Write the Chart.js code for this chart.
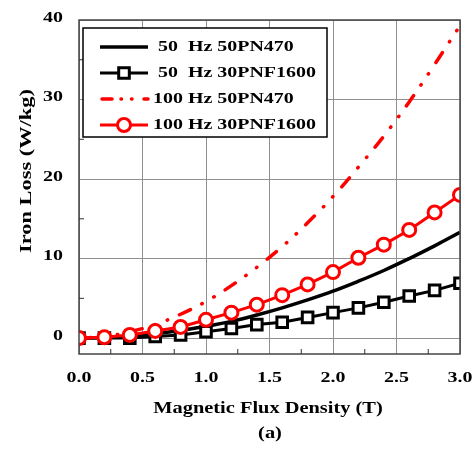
<!DOCTYPE html>
<html>
<head>
<meta charset="utf-8">
<script src="https://cdn.jsdelivr.net/npm/chart.js@4.4.1/dist/chart.umd.min.js"></script>
<style>
  html, body { margin: 0; padding: 0; background: #fff; }
  #wrap { width: 474px; height: 449px; }
</style>
</head>
<body>
<div id="wrap"><canvas id="lossChart" width="474" height="449"></canvas></div>
<script>
// values (B in tesla, loss in W/kg)
const fluxDensity = [0.0, 0.2, 0.4, 0.6, 0.8, 1.0, 1.2, 1.4, 1.6, 1.8, 2.0, 2.2, 2.4, 2.6, 2.8, 3.0];
const loss50Hz50PN470 = [0, 0.06, 0.24, 0.53, 0.95, 1.48, 2.1, 2.9, 3.8, 4.8, 5.9, 7.15, 8.5, 10.0, 11.6, 13.3];
const loss50Hz30PNF1600 = [0, 0, 0, 0.2, 0.4, 0.8, 1.2, 1.7, 2.0, 2.6, 3.2, 3.8, 4.5, 5.3, 6.0, 6.9];
const loss100Hz50PN470 = [0, 0.2, 0.8, 1.7, 3.0, 4.6, 6.6, 8.9, 11.5, 14.5, 17.8, 21.5, 25.4, 29.7, 34.4, 39.3];
const loss100Hz30PNF1600 = [0, 0.1, 0.4, 0.9, 1.4, 2.3, 3.2, 4.2, 5.4, 6.75, 8.3, 10.1, 11.75, 13.6, 15.8, 18.0];
const seriesLabels = ['50  Hz 50PN470', '50  Hz 30PNF1600', '100 Hz 50PN470', '100 Hz 30PNF1600'];
const xTicks = [0, 0.5, 1.0, 1.5, 2.0, 2.5, 3.0];
const xTickLabels = ['0.0', '0.5', '1.0', '1.5', '2.0', '2.5', '3.0'];
const yTicks = [0, 10, 20, 30, 40];
const yTickLabels = ['0', '10', '20', '30', '40'];

const FONT = '"Liberation Serif", "Times New Roman", serif';
const STRETCH = 1.33; // the figure's text is drawn wide
const DASH_DOT_DOT = [12, 13, 0.5, 13, 0.5, 13];

function pts(ys) {
    return fluxDensity.map((b, i) => ({ x: b, y: ys[i] }));
}

function wideText(ctx, txt, x, y, size, align, stretch) {
    ctx.save();
    ctx.font = 'bold ' + size + 'px ' + FONT;
    ctx.fillStyle = '#000';
    ctx.textBaseline = 'middle';
    ctx.textAlign = align;
    ctx.translate(x, y);
    ctx.scale(stretch, 1);
    ctx.fillText(txt, 0, 0);
    ctx.restore();
}

// frame, minor ticks, tick labels, axis titles and the boxed legend
const decorPlugin = {
    id: 'decor',
    afterDatasetsDraw(chart) {
        const ctx = chart.ctx;
        const a = chart.chartArea;
        const xs = chart.scales.x, ys = chart.scales.y;

        ctx.save();
        ctx.strokeStyle = '#444';
        ctx.lineWidth = 1.5;
        ctx.strokeRect(a.left, a.top, a.right - a.left, a.bottom - a.top);

        // minor ticks
        ctx.lineWidth = 1;
        ctx.strokeStyle = '#333';
        for (let v = 0.25; v < 3; v += 0.5) {
            const px = xs.getPixelForValue(v);
            ctx.beginPath();
            ctx.moveTo(px, a.bottom);
            ctx.lineTo(px, a.bottom - 5);
            ctx.stroke();
        }
        for (let v = 5; v < 40; v += 10) {
            const py = ys.getPixelForValue(v);
            ctx.beginPath();
            ctx.moveTo(a.left, py);
            ctx.lineTo(a.left + 5, py);
            ctx.stroke();
        }
        ctx.restore();

        xTicks.forEach((v, i) => {
            wideText(ctx, xTickLabels[i], xs.getPixelForValue(v), 378, 15, 'center', STRETCH);
        });
        yTicks.forEach((v, i) => {
            wideText(ctx, yTickLabels[i], 63, ys.getPixelForValue(v) - 2, 15, 'right', STRETCH);
        });

        wideText(ctx, 'Magnetic Flux Density (T)', 268, 409, 17, 'center', 1.2);
        wideText(ctx, '(a)', 270, 434, 17, 'center', 1.2);

        ctx.save();
        ctx.translate(27, 171);
        ctx.rotate(-Math.PI / 2);
        wideText(ctx, 'Iron Loss (W/kg)', 0, 0, 16, 'center', 1.4);
        ctx.restore();

        // legend box
        ctx.save();
        ctx.fillStyle = '#fff';
        ctx.fillRect(83, 28, 244, 109);
        ctx.strokeStyle = '#000';
        ctx.lineWidth = 1.5;
        ctx.strokeRect(83, 28, 244, 109);
        const rowY = [47, 73, 99, 125];
        chart.data.datasets.forEach((ds, i) => {
            const y = rowY[i];
            ctx.save();
            ctx.strokeStyle = ds.borderColor;
            ctx.lineWidth = ds.borderWidth;
            ctx.lineCap = ds.borderCapStyle || 'butt';
            ctx.setLineDash(ds.borderDash ? [10, 9, 0.5, 10, 0.5, 12] : []);
            ctx.beginPath();
            ctx.moveTo(ds.borderDash ? 102 : 100, y);
            ctx.lineTo(148, y);
            ctx.stroke();
            ctx.restore();
            if (ds.pointRadius > 0) {
                ctx.save();
                ctx.fillStyle = ds.pointBackgroundColor;
                ctx.strokeStyle = ds.borderColor;
                ctx.lineWidth = ds.pointBorderWidth;
                Chart.helpers.drawPoint(ctx, { pointStyle: ds.pointStyle, radius: ds.pointRadius, borderWidth: ds.pointBorderWidth, rotation: 0 }, 124, y);
                ctx.restore();
            }
            wideText(ctx, ds.label, i < 2 ? 158 : 153, y, 15, 'left', STRETCH);
        });
        ctx.restore();
    }
};

const ctx = document.getElementById('lossChart').getContext('2d');
const lossChart = new Chart(ctx, {
    type: 'line',
    data: {
        datasets: [
            {
                label: seriesLabels[0],
                data: pts(loss50Hz50PN470),
                borderColor: '#000',
                borderWidth: 3.5,
                pointRadius: 0,
                tension: 0.4,
                order: 4
            },
            {
                label: seriesLabels[1],
                data: pts(loss50Hz30PNF1600),
                borderColor: '#000',
                borderWidth: 3,
                pointStyle: 'rect',
                pointRadius: 7.5,
                pointBorderWidth: 3,
                pointBackgroundColor: '#fff',
                pointBorderColor: '#000',
                tension: 0,
                order: 3
            },
            {
                label: seriesLabels[2],
                data: pts(loss100Hz50PN470),
                borderColor: '#ff0000',
                borderWidth: 3.5,
                borderDash: DASH_DOT_DOT,
                borderCapStyle: 'round',
                pointRadius: 0,
                tension: 0.4,
                order: 2
            },
            {
                label: seriesLabels[3],
                data: pts(loss100Hz30PNF1600),
                borderColor: '#ff0000',
                borderWidth: 3,
                pointStyle: 'circle',
                pointRadius: 6.5,
                pointBorderWidth: 3,
                pointBackgroundColor: '#fff',
                pointBorderColor: '#ff0000',
                tension: 0,
                order: 1
            }
        ]
    },
    options: {
        responsive: false,
        animation: false,
        layout: { padding: { left: 79, right: 14, top: 20, bottom: 95 } },
        scales: {
            x: {
                type: 'linear',
                min: 0,
                max: 3,
                afterBuildTicks: (s) => { s.ticks = xTicks.map(v => ({ value: v })); },
                afterFit: (s) => { s.height = 0; },
                ticks: { display: false },
                grid: { color: '#909090', lineWidth: 1, drawTicks: false },
                border: { display: false }
            },
            y: {
                min: -2,
                max: 40,
                afterBuildTicks: (s) => { s.ticks = yTicks.map(v => ({ value: v })); },
                afterFit: (s) => { s.width = 0; },
                ticks: { display: false },
                grid: { color: '#909090', lineWidth: 1, drawTicks: false },
                border: { display: false }
            }
        },
        plugins: {
            legend: { display: false },
            tooltip: { enabled: false }
        }
    },
    plugins: [decorPlugin]
});
</script>
</body>
</html>
